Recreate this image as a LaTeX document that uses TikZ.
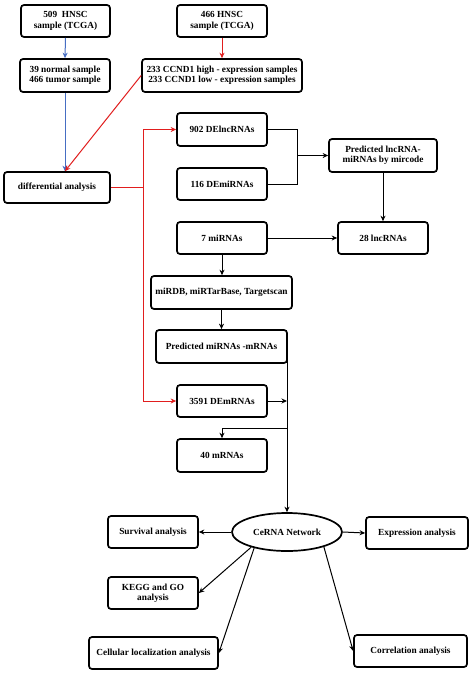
\documentclass[tikz,border=0pt]{standalone}
\usepackage{fontspec}
\setmainfont{Liberation Serif}
\usetikzlibrary{arrows.meta,shapes.geometric}
\definecolor{fblue}{RGB}{70,110,195}
\definecolor{fred}{RGB}{225,30,30}
\tikzset{
  box/.style={draw, line width=1.7pt, rounded corners=3pt, align=center, inner sep=1pt,
    font=\fontsize{9.3}{10.3}\selectfont\bfseries},
  conn/.style={line width=1pt, -{Stealth[length=5.5pt,width=5pt]}},
  plain/.style={line width=1pt},
}
\begin{document}
\begin{tikzpicture}[x=1pt,y=-1pt]
\useasboundingbox[fill=white] (0,0) rectangle (474,675);
% nodes
\node[box, minimum width=89pt, minimum height=32pt] (hnsc1) at (65.5,21) {509\ \ HNSC\\sample (TCGA)};
\node[box, minimum width=90pt, minimum height=33pt] (norm) at (65,75.5) {39 normal sample\\466 tumor sample};
\node[box, minimum width=90pt, minimum height=32pt] (hnsc2) at (222,21) {466 HNSC\\sample (TCGA)};
\node[box, minimum width=160pt, minimum height=33pt] (ccnd) at (222,75.5) {233 CCND1 high - expression samples\\233 CCND1 low - expression samples};
\node[box, minimum width=106pt, minimum height=31pt] (diff) at (57,187.5) {differential analysis};
\node[box, minimum width=90pt, minimum height=33pt] (lnc902) at (222,129.5) {902 DElncRNAs};
\node[box, minimum width=90pt, minimum height=32pt] (mi116) at (222,184) {116 DEmiRNAs};
\node[box, minimum width=108pt, minimum height=33pt] (predlnc) at (383,155.5) {Predicted lncRNA-\\miRNAs by mircode};
\node[box, minimum width=90pt, minimum height=32pt] (mi7) at (222,238) {7 miRNAs};
\node[box, minimum width=90pt, minimum height=32pt] (lnc28) at (383,238) {28 lncRNAs};
\node[box, minimum width=141pt, minimum height=33pt] (mirdb) at (221.5,292.5) {miRDB, miRTarBase, Targetscan};
\node[box, minimum width=131pt, minimum height=33pt] (predmi) at (221.5,346.5) {Predicted miRNAs -mRNAs};
\node[box, minimum width=90pt, minimum height=32pt] (de3591) at (222,401) {3591 DEmRNAs};
\node[box, minimum width=90pt, minimum height=33pt] (m40) at (222,455.5) {40 mRNAs};
\node[box, ellipse, rounded corners=0pt, minimum width=110pt, minimum height=38pt] (cerna) at (287,532) {CeRNA Network};
\node[box, minimum width=90pt, minimum height=32pt] (surv) at (153,532) {Survival analysis};
\node[box, minimum width=102pt, minimum height=32pt] (expr) at (417,533) {Expression analysis};
\node[box, minimum width=90pt, minimum height=32pt] (kegg) at (153,593) {KEGG and GO\\analysis};
\node[box, minimum width=129pt, minimum height=32pt] (cell) at (153.5,653) {Cellular localization analysis};
\node[box, minimum width=113pt, minimum height=32pt] (corr) at (410.5,651) {Correlation analysis};
% blue
\draw[conn, fblue] (hnsc1.south) -- (norm.north);
\draw[conn, fblue] (norm.south) -- (norm.south |- diff.north);
% red
\draw[conn, fred] (hnsc2.south) -- (ccnd.north);
\draw[conn, fred] (ccnd.west) -- (norm.south |- diff.north);
\coordinate (rj) at (143,187.5);
\draw[plain, fred] (diff.east) -- (rj);
\draw[conn, fred] (rj) |- (lnc902.west);
\draw[conn, fred] (rj) |- (de3591.west);
% black
\coordinate (bj) at (297,155.5);
\draw[plain] (lnc902.east) -| (bj);
\draw[plain] (mi116.east) -| (bj);
\draw[conn] (bj) -- (predlnc.west);
\draw[conn] (predlnc.south) -- (lnc28.north);
\draw[conn] (mi7.east) -- (lnc28.west);
\draw[conn] (mi7.south) -- (mi7.south |- mirdb.north);
\draw[conn] (mirdb.south) -- (mirdb.south |- predmi.north);
\coordinate (vt) at (287,358);
\draw[conn] (vt) -- (cerna.north);
\draw[conn] (de3591.east) -- (vt |- de3591.east);
\coordinate (vb) at (287,428);
\draw[conn] (vb) -| (m40.north);
\draw[conn] (cerna.west) -- (surv.east);
\draw[conn] (cerna.east) -- (expr.west);
\draw[conn] (cerna.203) -- (kegg.east);
\draw[conn] (cerna.206) -- (cell.east);
\draw[conn] (cerna.338) -- (corr.west);
\end{tikzpicture}
\end{document}
